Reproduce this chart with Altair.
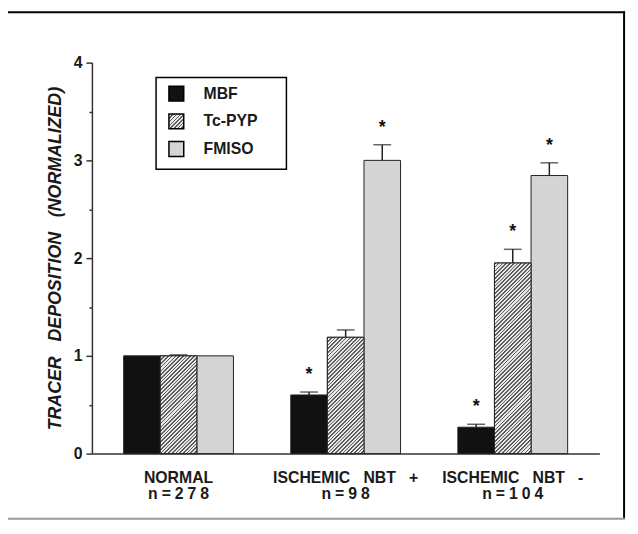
import math
import altair as alt
import pandas as pd

# ---------------- data ----------------
group_names = ["NORMAL", "ISCHEMIC\u00a0\u00a0 NBT\u00a0\u00a0 +", "ISCHEMIC\u00a0\u00a0 NBT\u00a0\u00a0 -"]
group_n = ["n=278", "n=98", "n=104"]
series = ["MBF", "Tc-PYP", "FMISO"]

mbf_values = [1.00, 0.60, 0.27]
mbf_errors = [0.00, 0.03, 0.03]
mbf_signif = [False, True, True]

tcpyp_values = [1.00, 1.19, 1.95]
tcpyp_errors = [0.01, 0.075, 0.14]
tcpyp_signif = [False, False, True]

fmiso_values = [1.00, 3.00, 2.845]
fmiso_errors = [0.00, 0.16, 0.13]
fmiso_signif = [False, True, True]

y_title = "TRACER\u00a0\u00a0 DEPOSITION\u00a0\u00a0 (NORMALIZED)"

# ---------------- table ----------------
labels = [g + "|" + "\u2005".join(list(n)) for g, n in zip(group_names, group_n)]
rows = []
for s, vals, errs, sigs in [
    ("MBF", mbf_values, mbf_errors, mbf_signif),
    ("Tc-PYP", tcpyp_values, tcpyp_errors, tcpyp_signif),
    ("FMISO", fmiso_values, fmiso_errors, fmiso_signif),
]:
    for lab, v, e, sg in zip(labels, vals, errs, sigs):
        rows.append({"label": lab, "series": s, "value": v, "err": e, "sig": sg})
df = pd.DataFrame(rows)

# ---------------- layout ----------------
W, H = 514, 396
PAD_IN, PAD_OUT = 0.343, 0.19
YMAX = 4
step = W / (len(labels) - PAD_IN + 2 * PAD_OUT)
sub_w = step * (1 - PAD_IN) / len(series)
px_per_unit = H / YMAX

FONT = "Liberation Sans"
INK = "#1a1a1a"
DARK_HATCH = "#5e5e5e"
LIGHT_HATCH = "#e8e8e8"


def hatch(w, h, period=2.7, dark=DARK_HATCH, light=LIGHT_HATCH, frac=0.45):
    c = (w + h) / (w * w + h * h)
    L = (w + h) / math.sqrt(2)
    n = max(1, int(round(L / period)))
    stops = []
    for k in range(n):
        a, b, e = k / n, (k + frac) / n, (k + 1) / n
        stops += [
            {"offset": a, "color": dark},
            {"offset": b, "color": dark},
            {"offset": b, "color": light},
            {"offset": e, "color": light},
        ]
    return {"gradient": "linear", "x1": 0, "y1": 0, "x2": c * w, "y2": c * h, "stops": stops}


def grad_expr(g):
    stops = ",".join(
        "{offset:%.5f,color:'%s'}" % (s["offset"], s["color"]) for s in g["stops"]
    )
    return "{gradient:'linear',x1:%.5f,y1:%.5f,x2:%.5f,y2:%.5f,stops:[%s]}" % (
        g["x1"], g["y1"], g["x2"], g["y2"], stops)


legend_hatch = hatch(15, 15)

xscale = alt.Scale(domain=labels, paddingInner=PAD_IN, paddingOuter=PAD_OUT)
offscale = alt.Scale(domain=series)
yscale = alt.Scale(domain=[0, YMAX], nice=False)

xaxis = alt.Axis(
    labelExpr="split(datum.label, '|')",
    ticks=False,
    domainColor="#333333",
    domainWidth=1.5,
    labelFont=FONT,
    labelFontSize=16,
    labelFontWeight="bold",
    labelColor=INK,
    labelPadding=16,
    labelLineHeight=16,
    labelAngle=0,
    labelBaseline="top",
    labelLimit=300,
)
yaxis = alt.Axis(
    values=[0, 0.5, 1, 1.5, 2, 2.5, 3, 3.5, 4],
    labelExpr="datum.value % 1 === 0 ? format(datum.value, 'd') : ''",
    labelOverlap=False,
    labelFlush=False,
    grid=False,
    tickSize={"condition": {"test": "datum.value % 1 === 0", "value": 6}, "value": 3},
    tickColor="#333333",
    tickWidth=1.5,
    domainColor="#333333",
    domainWidth=1.5,
    labelFont=FONT,
    labelFontSize=16,
    labelFontWeight="bold",
    labelColor=INK,
    labelPadding=4,
    titleFont=FONT,
    titleFontSize=18,
    titleFontStyle="italic",
    titleFontWeight="bold",
    titleColor=INK,
    titlePadding=9,
)

legend = alt.Legend(
    title=None,
    orient="none",
    legendX=65,
    legendY=11,
    padding=12,
    strokeColor="transparent",
    symbolType="square",
    symbolSize=225,
    symbolStrokeColor="black",
    symbolStrokeWidth=1.5,
    symbolOpacity=1,
    labelFont=FONT,
    labelFontSize=16,
    labelFontWeight="bold",
    labelColor=INK,
    labelOffset=19,
    rowPadding=7,
)

base = alt.Chart(df).encode(
    x=alt.X("label:N", scale=xscale, axis=xaxis, title=None, sort=labels),
    xOffset=alt.XOffset("series:N", scale=offscale, sort=series),
    y=alt.Y("value:Q", scale=yscale, axis=yaxis, title=y_title),
)

bars = base.mark_bar(stroke="#222222", strokeWidth=1).encode(
    color=alt.Color(
        "series:N",
        scale=alt.Scale(
            domain=series,
            range=["#111111", {"expr": grad_expr(legend_hatch)}, "#d4d4d4"],
        ),
        legend=legend,
    )
)

layers = [bars]
for lab, v in zip(labels, tcpyp_values):
    layers.append(
        base.transform_filter((alt.datum.series == "Tc-PYP") & (alt.datum.label == lab))
        .mark_bar(fill=hatch(sub_w, v * px_per_unit), stroke="#222222", strokeWidth=1)
    )

with_top = base.transform_calculate(top="datum.value + datum.err")
err_lines = with_top.transform_filter(alt.datum.err > 0).mark_rule(
    color="#222222", strokeWidth=1.5
).encode(y=alt.Y("value:Q"), y2="top:Q")
err_caps = with_top.transform_filter(alt.datum.err > 0).mark_tick(
    orient="horizontal", size=18, thickness=1.5, color="#222222"
).encode(y=alt.Y("top:Q"))
stars = with_top.transform_filter(alt.datum.sig).mark_text(
    text="*", font=FONT, fontSize=18, fontWeight="bold", color="#111111",
    baseline="alphabetic", dy=-12,
).encode(y=alt.Y("top:Q"))
layers += [err_lines, err_caps, stars]

# ---------------- decorations: legend box and outer frame ----------------
deco = alt.Chart(alt.Data(values=[{"k": 0}]))
legend_box = deco.mark_rect(fill="transparent", stroke="black", strokeWidth=1.5).encode(
    x=alt.value(65), x2=alt.value(197), y=alt.value(15), y2=alt.value(108))
frame = [
    deco.mark_rule(color="black", strokeWidth=2).encode(
        x=alt.value(-87), y=alt.value(-52), y2=alt.value(462)),
    deco.mark_rule(color="black", strokeWidth=2).encode(
        x=alt.value(-88), x2=alt.value(540), y=alt.value(-51)),
    deco.mark_rule(color="black", strokeWidth=2).encode(
        x=alt.value(539), y=alt.value(-52), y2=alt.value(462)),
    deco.mark_rule(color="#9a9a9a", strokeWidth=2).encode(
        x=alt.value(-88), x2=alt.value(540), y=alt.value(462)),
]

chart = alt.layer(*layers, legend_box, *frame).properties(
    width=W,
    height=H,
    padding={"left": 85, "top": 52, "right": 31, "bottom": 70},
    autosize=alt.AutoSizeParams(type="none"),
    background="white",
).configure_view(stroke=None)

chart.save("out.html", embed_options={"renderer": "svg", "actions": False})
